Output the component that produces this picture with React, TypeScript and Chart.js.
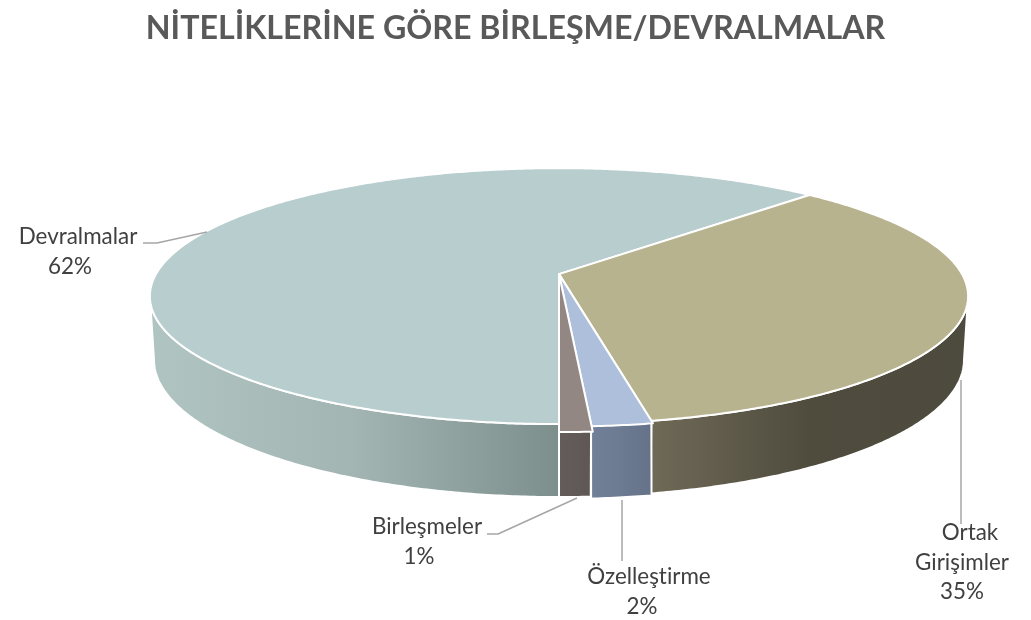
import React, { useEffect, useRef } from "react";
import { Chart, registerables } from "chart.js";

Chart.register(...registerables);

const chartTitle = "NİTELİKLERİNE GÖRE BİRLEŞME/DEVRALMALAR";
const categories = ["Devralmalar", "Ortak Girişimler", "Özelleştirme", "Birleşmeler"];
const shares = [62.3, 34.65, 2.0, 1.05];
const topColors = ["#b8cdce", "#b8b38f", "#aebfdc", "#938784"];

// Side wall shading, left to right, per slice
const wallStops = [
  ["#b0c4c2", "#a2b5b3", "#7d8f8d"],
  ["#6f6957", "#4f4c3e", "#4d4b3d"],
  ["#717f98", "#6c7a92", "#657288"],
  ["#645c5a", "#625a58", "#5f5755"],
];

// Projection of the disc, in pixels
const SHIFT_X = 43.5;
const RX = 403;
const RY = 124.2;
const PERSP = 0.172;
const BASE_X = 0.99;
const BASE_Y = 1.073;
const BASE_DROP = 62;
const TOP_PULL = [1, 1, 1.017, 1.053];
const BASE_PULL = [1, 1, 1.012, 1];

const FONT = "Lato";
const TEXT = "#404040";
const LEADER = "#a6a6a6";

const labelLayout = [
  { lines: [["Devralmalar", 78, 237]], pct: [70, 267], leader: [[143, 243], [157, 243], [207, 232]] },
  { lines: [["Ortak", 970, 533], ["Girişimler", 962, 563]], pct: [962, 592], leader: [[961, 380], [961, 524]] },
  { lines: [["Özelleştirme", 649, 577]], pct: [642, 607], leader: [[622, 500], [622, 561]] },
  { lines: [["Birleşmeler", 427, 527]], pct: [419, 557], leader: [[487, 534], [498, 534], [577, 498]] },
];

function rimPoint(t: number, pull = 1) {
  const u = Math.cos(t);
  const v = Math.sin(t);
  const w = 1 - PERSP * v;
  return { x: (RX * u * pull) / w, y: (RY * v * pull) / w };
}

const pie3d = {
  id: "pie3d",
  beforeDatasetsDraw(chart: any) {
    const ctx: CanvasRenderingContext2D = chart.ctx;
    const arcs = chart.getDatasetMeta(0).data;
    const total = shares.reduce((a, b) => a + b, 0);
    const step = Math.PI / 360;
    const lo = (10 * Math.PI) / 180;
    const hi = (170 * Math.PI) / 180;

    const sample = (a: number, b: number) => {
      const out: number[] = [];
      for (let t = a; t < b; t += step) out.push(t);
      out.push(b);
      return out;
    };

    ctx.save();
    ctx.lineJoin = "round";

    // side walls
    arcs.forEach((arc: any, i: number) => {
      const cx = arc.x + SHIFT_X;
      const s = Math.max(arc.startAngle, lo);
      const e = Math.min(arc.endAngle, hi);
      const s2 = Math.max(arc.startAngle - 2 * Math.PI, lo);
      const e2 = Math.min(arc.endAngle - 2 * Math.PI, hi);
      const a = e > s ? s : s2;
      const b = e > s ? e : e2;
      if (b <= a) return;
      const ts = sample(a, b);
      ctx.beginPath();
      ts.forEach((t, n) => {
        const p = rimPoint(t);
        if (n === 0) ctx.moveTo(cx + p.x, arc.y + p.y);
        else ctx.lineTo(cx + p.x, arc.y + p.y);
      });
      [...ts].reverse().forEach((t) => {
        const p = rimPoint(t, BASE_PULL[i]);
        ctx.lineTo(cx + p.x * BASE_X, arc.y + p.y * BASE_Y + BASE_DROP);
      });
      ctx.closePath();
      const xs = ts.map((t) => cx + rimPoint(t).x);
      const g = ctx.createLinearGradient(Math.min(...xs), 0, Math.max(...xs), 0);
      wallStops[i].forEach((c, n) => g.addColorStop(n / (wallStops[i].length - 1), c));
      ctx.fillStyle = g;
      ctx.fill();
      ctx.strokeStyle = "#ffffff";
      ctx.lineWidth = 2;
      ctx.stroke();
    });

    // top faces
    arcs.forEach((arc: any, i: number) => {
      const cx = arc.x + SHIFT_X;
      ctx.beginPath();
      ctx.moveTo(cx, arc.y);
      sample(arc.startAngle, arc.endAngle).forEach((t) => {
        const p = rimPoint(t, TOP_PULL[i]);
        ctx.lineTo(cx + p.x, arc.y + p.y);
      });
      ctx.closePath();
      ctx.fillStyle = arc.options.backgroundColor;
      ctx.fill();
      ctx.strokeStyle = "#ffffff";
      ctx.lineWidth = 2;
      ctx.stroke();
    });

    // leaders and labels
    ctx.textAlign = "center";
    ctx.textBaseline = "middle";
    ctx.font = `22.4px ${FONT}`;
    (ctx as any).letterSpacing = "0.01px";
    labelLayout.forEach((l, i) => {
      ctx.beginPath();
      l.leader.forEach(([x, y], n) => (n === 0 ? ctx.moveTo(x, y) : ctx.lineTo(x, y)));
      ctx.strokeStyle = LEADER;
      ctx.lineWidth = 1.5;
      ctx.stroke();
      ctx.fillStyle = TEXT;
      l.lines.forEach(([txt, x, y]) => ctx.fillText(txt as string, x as number, y as number));
      ctx.fillText(`${Math.round((shares[i] / total) * 100)}%`, l.pct[0], l.pct[1]);
    });
    ctx.restore();
    return false;
  },
};

export default function App() {
  const ref = useRef<HTMLCanvasElement>(null);
  useEffect(() => {
    document.body.style.margin = "0";
    const chart = new Chart(ref.current!, {
      type: "pie",
      data: {
        labels: categories,
        datasets: [{ data: shares, backgroundColor: topColors, borderColor: "#ffffff", borderWidth: 2 }],
      },
      options: {
        responsive: false,
        animation: false,
        rotation: 180,
        layout: { padding: { left: 0, right: 0, top: 0, bottom: 129.4 } },
        plugins: {
          legend: { display: false },
          tooltip: { enabled: false },
          title: {
            display: true,
            text: chartTitle,
            color: "#595959",
            font: { family: FONT, size: 32.2, weight: "bold", lineHeight: 1.2 },
            padding: { top: 9, bottom: 10 },
          },
        },
      },
      plugins: [pie3d],
    } as any);
    return () => chart.destroy();
  }, []);
  return (
    <div style={{ width: 1031, height: 620 }}>
      <canvas ref={ref} width={1031} height={620} style={{ display: "block" }} />
    </div>
  );
}
